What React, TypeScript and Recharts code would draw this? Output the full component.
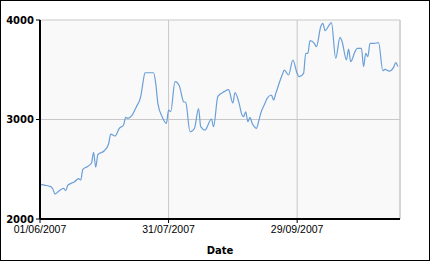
import React from 'react';
import {
  CartesianGrid,
  Line,
  LineChart,
  ReferenceLine,
  XAxis,
  YAxis,
} from 'recharts';

const dates = [
  '2007-06-01', '2007-06-03', '2007-06-06', '2007-06-07', '2007-06-08',
  '2007-06-10', '2007-06-12', '2007-06-13', '2007-06-14', '2007-06-17',
  '2007-06-19', '2007-06-20', '2007-06-21', '2007-06-23', '2007-06-25',
  '2007-06-26', '2007-06-27', '2007-06-28', '2007-07-01', '2007-07-03',
  '2007-07-04', '2007-07-06', '2007-07-08', '2007-07-10', '2007-07-11',
  '2007-07-12', '2007-07-14', '2007-07-16', '2007-07-18', '2007-07-19',
  '2007-07-20', '2007-07-24', '2007-07-25', '2007-07-26', '2007-07-28',
  '2007-07-30', '2007-07-31', '2007-08-01', '2007-08-03', '2007-08-05',
  '2007-08-07', '2007-08-08', '2007-08-10', '2007-08-12', '2007-08-14',
  '2007-08-15', '2007-08-17', '2007-08-20', '2007-08-21', '2007-08-23',
  '2007-08-26', '2007-08-28', '2007-08-30', '2007-08-31', '2007-09-02',
  '2007-09-03', '2007-09-04', '2007-09-05', '2007-09-06', '2007-09-07',
  '2007-09-08', '2007-09-09', '2007-09-10', '2007-09-11', '2007-09-12',
  '2007-09-14', '2007-09-15', '2007-09-17', '2007-09-18', '2007-09-19',
  '2007-09-22', '2007-09-23', '2007-09-25', '2007-09-27', '2007-09-29',
  '2007-09-30', '2007-10-02', '2007-10-03', '2007-10-04', '2007-10-05',
  '2007-10-07', '2007-10-08', '2007-10-10', '2007-10-11', '2007-10-12',
  '2007-10-14', '2007-10-15', '2007-10-17', '2007-10-19', '2007-10-20',
  '2007-10-22', '2007-10-23', '2007-10-24', '2007-10-26', '2007-10-27',
  '2007-10-29', '2007-10-30', '2007-10-31', '2007-11-01', '2007-11-02',
  '2007-11-04', '2007-11-06', '2007-11-08', '2007-11-09', '2007-11-11',
  '2007-11-13', '2007-11-14', '2007-11-15',
];

const values = [
  2349, 2340, 2325, 2301, 2251,
  2285, 2308, 2285, 2339, 2372,
  2405, 2392, 2499, 2526, 2560,
  2670, 2520, 2646, 2686, 2754,
  2854, 2834, 2911, 2945, 3022,
  3012, 3045, 3129, 3229, 3364,
  3470, 3470, 3364, 3163, 3028,
  2962, 3095, 3078, 3380, 3340,
  3179, 3173, 2877, 2905, 3110,
  2928, 2894, 3005, 2928, 3232,
  3280, 3300, 3166, 3270, 3155,
  3062, 3028, 3078, 2978, 3022,
  2962, 2928, 2911, 2978, 3062,
  3163, 3213, 3246, 3196, 3260,
  3447, 3497, 3447, 3598, 3464,
  3430, 3464, 3665, 3665, 3792,
  3765, 3732, 3933, 3967, 3893,
  3950, 3973, 3614, 3826, 3782,
  3600, 3707, 3581, 3682, 3715,
  3715, 3531, 3665, 3631, 3765,
  3765, 3772, 3490, 3504, 3487,
  3524, 3571, 3531,
];

const xTicks = ['2007-06-01', '2007-07-31', '2007-09-29'];
const xEnd = '2007-11-16';
const yTicks = [2000, 3000, 4000];

const toTime = (s: string) => {
  const [y, m, d] = s.split('-').map(Number);
  return Date.UTC(y, m - 1, d);
};

const fmtDate = (t: number) => {
  const d = new Date(t);
  const dd = String(d.getUTCDate()).padStart(2, '0');
  const mm = String(d.getUTCMonth() + 1).padStart(2, '0');
  return `${dd}/${mm}/${d.getUTCFullYear()}`;
};

const data = dates.map((d, i) => ({ t: toTime(d), value: values[i] }));

export default function App() {
  return (
    <div
      style={{
        position: 'absolute',
        left: 0,
        top: 0,
        width: 430,
        height: 261,
        background: '#fff',
      }}
    >
      <LineChart
        width={430}
        height={261}
        data={data}
        margin={{ top: 20, right: 30, left: 0, bottom: 0 }}
      >
        <CartesianGrid
          stroke="#c8c8c8"
          fill="#f9f9f9"
          fillOpacity={1}
          horizontalValues={yTicks}
        />
        <ReferenceLine x={toTime(xEnd)} stroke="#c8c8c8" />
        <XAxis
          dataKey="t"
          type="number"
          scale="time"
          domain={[toTime(xTicks[0]), toTime(xEnd)]}
          ticks={xTicks.map(toTime)}
          tickFormatter={fmtDate}
          height={42}
          axisLine={{ stroke: '#000', strokeWidth: 2 }}
          tickLine={{ stroke: '#000' }}
          tickSize={4}
          tickMargin={3}
          tick={{ fill: '#000', fontSize: 10.5, fontFamily: 'Liberation Sans' }}
          label={{
            value: 'Date',
            position: 'insideBottom',
            offset: 7,
            fill: '#000',
            fontSize: 10,
            fontWeight: 'bold',
            fontFamily: 'DejaVu Sans',
          }}
        />
        <YAxis
          domain={[2000, 4000]}
          ticks={yTicks}
          width={40}
          axisLine={{ stroke: '#000', strokeWidth: 2 }}
          tickLine={{ stroke: '#000' }}
          tickSize={4}
          tick={{
            fill: '#000',
            fontSize: 10,
            fontWeight: 'bold',
            fontFamily: 'DejaVu Sans',
          }}
        />
        <Line
          type="monotone"
          dataKey="value"
          stroke="#6a9fd8"
          strokeWidth={1.2}
          dot={false}
          isAnimationActive={false}
        />
      </LineChart>
      <div
        style={{
          position: 'absolute',
          inset: 0,
          border: '1px solid #000',
          pointerEvents: 'none',
        }}
      />
    </div>
  );
}
